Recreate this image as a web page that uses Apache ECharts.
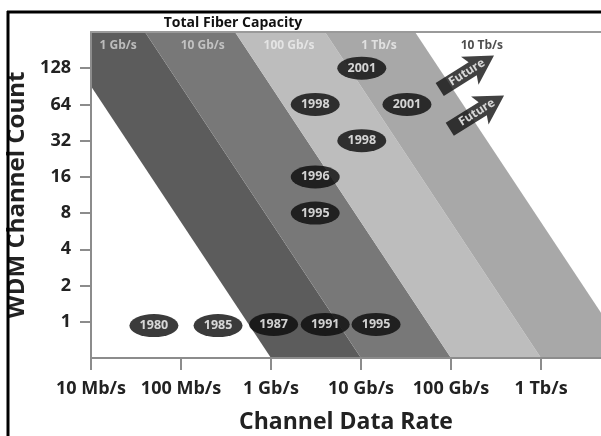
<!DOCTYPE html>
<html>
<head>
<meta charset="utf-8">
<script src="https://cdn.jsdelivr.net/npm/echarts@6/dist/echarts.min.js"></script>
<style>
html, body { margin: 0; padding: 0; background: #fff; }
#main { width: 601px; height: 436px; }
</style>
</head>
<body>
<div id="main"></div>
<script>
// x axis in Mb/s, y axis is channel count (log2)
var xTickValues = [10, 100, 1000, 10000, 100000, 1000000];
var xTickLabels = ['10 Mb/s', '100 Mb/s', '1 Gb/s', '10 Gb/s', '100 Gb/s', '1 Tb/s'];
var yTickValues = [1, 2, 4, 8, 16, 32, 64, 128];

// capacity band edges: rate where each edge meets the top (256 ch) and bottom (0.5 ch)
var edgeTop = [3.98, 39.8, 398, 3980, 39800];
var edgeBottom = [1000, 10000, 100000, 1000000, 10000000];
var bandColors = ['#5c5c5c', '#787878', '#bdbdbd', '#a8a8a8'];

// band titles along the top
var bandNames = ['1 Gb/s', '10 Gb/s', '100 Gb/s', '1 Tb/s', '10 Tb/s'];
var bandNameX = [20, 174, 1585, 15850, 220000];
var bandNameY = [197, 197, 197, 197, 197];
var bandNameColors = ['#d4d4d4', '#d4d4d4', '#eeeeee', '#eeeeee', '#222222'];

// milestones
var years = ['1980', '1985', '1987', '1991', '1995', '1995', '1996', '1998', '1998', '2001', '2001'];
var yearRate = [50, 258, 1070, 4000, 14700, 3100, 3100, 3100, 10200, 10200, 32400];
var yearCount = [0.93, 0.93, 0.95, 0.95, 0.95, 8, 16, 64, 32, 128, 64];

// "Future" arrows
var futureRate = [150000, 194000];
var futureCount = [118, 55];

var chart = echarts.init(document.getElementById('main'));

var fontFam = 'Open Sans';

var bandData = [];
for (var i = 0; i < bandColors.length; i++) {
	bandData.push([edgeTop[i], edgeTop[i + 1], edgeBottom[i], edgeBottom[i + 1]]);
}

var yearData = years.map(function(y, i) {
	return [yearRate[i], yearCount[i], y];
});

var bandNameData = bandNames.map(function(n, i) {
	return {
		value: [bandNameX[i], bandNameY[i], n],
		label: { color: bandNameColors[i] }
	};
});

var futureData = futureRate.map(function(r, i) {
	return [r, futureCount[i], 'Future'];
});

function xLabel(v) {
	for (var i = 0; i < xTickValues.length; i++) {
		if (Math.abs(Math.log10(v) - Math.log10(xTickValues[i])) < 1e-6) return xTickLabels[i];
	}
	return '';
}

var arrowPath = 'path://M0,8 L34,8 L31,0 L56,15 L31,30 L34,22 L0,22 Z';

var option = {
	animation: false,
	title: {
		text: 'Total Fiber Capacity',
		left: 228,
		top: 11,
		textAlign: 'center',
		textStyle: { fontFamily: fontFam, fontSize: 14, fontWeight: 'bold', color: '#111' }
	},
	grid: { left: 91, right: 0, top: 32, bottom: 78, outerBoundsMode: 'none', containLabel: false },
	xAxis: [{
		type: 'log',
		logBase: 10,
		min: 10,
		max: 4640000,
		z: 5,
		name: 'Channel Data Rate',
		nameLocation: 'middle',
		nameGap: 53,
		nameTextStyle: { fontFamily: fontFam, fontSize: 23, fontWeight: 'bold', color: '#222' },
		axisLine: { lineStyle: { color: '#8c8c8c', width: 2 } },
		axisTick: { length: 12, customValues: xTickValues, lineStyle: { color: '#8c8c8c', width: 2 } },
		axisLabel: {
			customValues: xTickValues,
			margin: 22,
			formatter: xLabel,
			fontFamily: fontFam, fontSize: 18, fontWeight: 'bold', color: '#222'
		},
		splitLine: { show: false }
	}, {
		type: 'log',
		position: 'top',
		min: 10,
		max: 4640000,
		z: 5,
		axisLine: { lineStyle: { color: '#9a9a9a', width: 2 } },
		axisTick: { show: false },
		axisLabel: { show: false },
		splitLine: { show: false }
	}],
	yAxis: {
		type: 'log',
		logBase: 2,
		min: 0.5,
		max: 256,
		z: 5,
		name: 'WDM Channel Count',
		nameLocation: 'middle',
		nameGap: 58,
		nameTextStyle: { fontFamily: fontFam, fontSize: 24, fontWeight: 'bold', color: '#222' },
		axisLine: { show: true, lineStyle: { color: '#8c8c8c', width: 2 } },
		axisTick: { show: true, length: 11, customValues: yTickValues, lineStyle: { color: '#8c8c8c', width: 2 } },
		axisLabel: {
			customValues: yTickValues,
			margin: 20,
			fontFamily: fontFam, fontSize: 18, fontWeight: 'bold', color: '#222'
		},
		splitLine: { show: false }
	},
	graphic: [{
		type: 'line',
		z: 100,
		shape: { x1: 7, y1: 12, x2: 601, y2: 12 },
		style: { stroke: '#000', lineWidth: 3 }
	}, {
		type: 'line',
		z: 100,
		shape: { x1: 8, y1: 11, x2: 8, y2: 436 },
		style: { stroke: '#000', lineWidth: 3 }
	}],
	series: [{
		type: 'custom',
		clip: true,
		z: 1,
		data: bandData,
		renderItem: function(params, api) {
			var pts = [
				api.coord([api.value(0), 256]),
				api.coord([api.value(1), 256]),
				api.coord([api.value(3), 0.5]),
				api.coord([api.value(2), 0.5])
			];
			return {
				type: 'polygon',
				shape: { points: pts },
				style: { fill: bandColors[params.dataIndex] }
			};
		}
	}, {
		type: 'scatter',
		z: 3,
		symbol: 'circle',
		symbolSize: 1,
		itemStyle: { color: 'rgba(0,0,0,0)' },
		data: bandNameData,
		label: {
			show: true,
			position: 'inside',
			formatter: function(p) { return p.value[2]; },
			fontFamily: fontFam, fontSize: 12, fontWeight: 'bold'
		}
	}, {
		type: 'scatter',
		z: 4,
		symbol: 'circle',
		symbolSize: [49, 23],
		itemStyle: { color: '#0a0a0a' },
		data: yearData,
		label: {
			show: true,
			position: 'inside',
			formatter: function(p) { return p.value[2]; },
			fontFamily: fontFam, fontSize: 12.5, fontWeight: 'bold', color: '#fff'
		}
	}, {
		type: 'scatter',
		z: 4,
		symbol: arrowPath,
		symbolSize: [64, 33],
		symbolRotate: 32,
		itemStyle: { color: '#111' },
		data: futureData,
		label: {
			show: true,
			position: 'inside',
			rotate: 32,
			formatter: function(p) { return p.value[2]; },
			fontFamily: fontFam, fontSize: 12, fontWeight: 'bold', color: '#fff'
		}
	}]
};

chart.setOption(option);
</script>
</body>
</html>
